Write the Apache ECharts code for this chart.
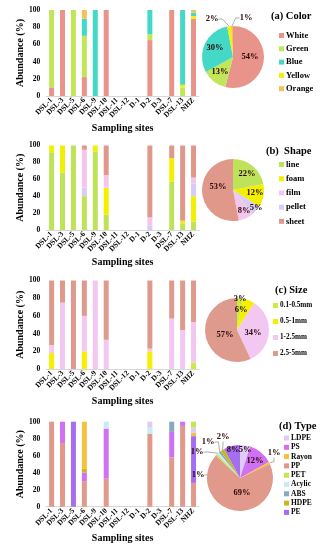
<!DOCTYPE html>
<html><head><meta charset="utf-8">
<script src="https://cdn.jsdelivr.net/npm/echarts@6/dist/echarts.min.js"></script>
<style>html,body{margin:0;padding:0;background:#fff}#c{width:320px;height:550px}</style>
</head><body><div id="c"></div>
<script>
// ---------------- DATA ----------------
const sites = ['DSL-1','DSL-3','DSL-5','DSL-6','DSL-9','DSL-10','DSL-11','DSL-12','D-1','D-2','D-3','DSL-7','DSL-13','NHZ'];
const yTicks = [0, 20, 40, 60, 80, 100];

// (a) Color — bar stacks (bottom → top) and pie
const colorLegend = ['White','Green','Blue','Yellow','Orange'];
const colorWhite  = [10,100,0,22,0,100,0,0,0,65,0,100,0,90];
const colorGreen  = [90,0,100,48,0,0,0,0,0,7,0,0,10,0];
const colorYellow = [0,0,0,0,0,0,0,0,0,0,0,0,3,3];
const colorBlue   = [0,0,0,20,100,0,0,0,0,28,0,0,87,4];
const colorOrange = [0,0,0,10,0,0,0,0,0,0,0,0,0,3];
const colorPieNames  = ['White','Green','Blue','Yellow','Orange'];
const colorPieValues = [54,13,30,2,1];

// (b) Shape
const shapeLegend = ['line','foam','film','pellet','sheet'];
const shapeLine   = [92,68,100,40,93,18,0,0,0,0,0,57,8,10];
const shapeFoam   = [8,32,0,0,7,32,0,0,0,0,0,28,3,30];
const shapePellet = [0,0,0,10,0,0,0,0,0,5,0,0,0,15];
const shapeFilm   = [0,0,0,45,0,15,0,0,0,10,0,0,0,7];
const shapeSheet  = [0,0,0,5,0,35,0,0,0,85,0,15,89,38];
const shapePieNames  = ['line','foam','pellet','film','sheet'];
const shapePieValues = [22,12,5,8,53];

// (c) Size
const sizeLegend = ['0.1-0.5mm','0.5-1mm','1-2.5mm','2.5-5mm'];
const size01 = [0,0,0,0,0,0,0,0,0,0,0,0,0,7];
const size05 = [18,0,0,20,0,0,0,0,0,20,0,0,0,0];
const size1  = [9,75,0,40,100,33,0,0,0,3,0,57,44,46];
const size25 = [73,25,100,40,0,67,0,0,0,77,0,43,56,47];
const sizePieNames  = ['0.1-0.5mm','0.5-1mm','1-2.5mm','2.5-5mm'];
const sizePieValues = [3,6,34,57];

// (d) Type
const typeLegend = ['LDPE','PS','Rayon','PP','PET','Acylic','ABS','HDPE','PE'];
const typePP     = [100,75,0,30,0,33,0,0,0,86,0,58,95,28];
const typePE     = [0,0,100,0,0,0,0,0,0,0,0,0,0,55];
const typePS     = [0,25,0,10,0,59,0,0,0,0,0,30,5,0];
const typeHDPE   = [0,0,0,5,0,0,0,0,0,0,0,0,0,0];
const typeRayon  = [0,0,0,55,0,0,0,0,0,0,0,0,0,4];
const typeAcylic = [0,0,0,0,0,8,0,0,0,7,0,0,0,0];
const typeLDPE   = [0,0,0,0,0,0,0,0,0,7,0,0,0,6];
const typeABS    = [0,0,0,0,0,0,0,0,0,0,0,12,0,0];
const typePET    = [0,0,0,0,0,0,0,0,0,0,0,0,0,7];
const typePieNames  = ['LDPE','PS','Rayon','PP','PET','Acylic','ABS','HDPE','PE'];
const typePieValues = [5,12,1,69,1,1,1,2,8];

// ---------------- STYLE ----------------
const FONT = '"Liberation Serif","Times New Roman",serif';
const colors = {
  White:'#E8948A', Green:'#C2E65A', Blue:'#44D8C6', Yellow:'#F4F000', Orange:'#F4C25A',
  line:'#BEE35A', foam:'#F2F000', film:'#F4C6EE', pellet:'#D6CCF4', sheet:'#E0988A',
  '0.1-0.5mm':'#C8EC40', '0.5-1mm':'#F4F000', '1-2.5mm':'#F2C8F2', '2.5-5mm':'#DE9A8C',
  LDPE:'#DCCCF6', PS:'#D070F2', Rayon:'#F6C040', PP:'#E0998B', PET:'#C6E650',
  Acylic:'#C6ECF4', ABS:'#88A8C4', HDPE:'#C8B820', PE:'#A56EF0'
};
const panels = [
  { title:'(a) Color', legend: colorLegend, grid:{top:10, height:86},
    stacks: [['White',colorWhite],['Green',colorGreen],['Yellow',colorYellow],['Blue',colorBlue],['Orange',colorOrange]],
    pieNames: colorPieNames, pieValues: colorPieValues, center:[233,57], r:31,
    lines:['Yellow','Orange'],
    labelPos:{White:[250,57],Blue:[215,48],Green:[220,72],Yellow:[212,19],Orange:[246,18]},
    titlePos:[266,6], legendPos:[274,26], legendGap:4.3, legendFont:8.5 },
  { title:'(b)  Shape', legend: shapeLegend, grid:{top:145.5, height:84.5},
    stacks: [['line',shapeLine],['foam',shapeFoam],['pellet',shapePellet],['film',shapeFilm],['sheet',shapeSheet]],
    pieNames: shapePieNames, pieValues: shapePieValues, center:[233,190], r:31,
    lines:[],
    labelPos:{line:[247,174],foam:[255,193],pellet:[256,208],film:[244,211],sheet:[218,187]},
    titlePos:[261,141], legendPos:[274,155], legendGap:5.2, legendFont:8.5 },
  { title:'(c) Size', legend: sizeLegend, grid:{top:280.5, height:88.5},
    stacks: [['0.1-0.5mm',size01],['0.5-1mm',size05],['1-2.5mm',size1],['2.5-5mm',size25]],
    pieNames: sizePieNames, pieValues: sizePieValues, center:[237,330], r:32,
    lines:[],
    labelPos:{'0.1-0.5mm':[240,299],'0.5-1mm':[241,310],'1-2.5mm':[253,333],'2.5-5mm':[225,335]},
    titlePos:[270,280], legendPos:[268,297], legendGap:9, legendFont:7.2 },
  { title:'(d) Type', legend: typeLegend, grid:{top:421.7, height:85},
    stacks: [['PP',typePP],['PE',typePE],['PS',typePS],['HDPE',typeHDPE],['Rayon',typeRayon],['Acylic',typeAcylic],['LDPE',typeLDPE],['ABS',typeABS],['PET',typePET]],
    pieNames: typePieNames, pieValues: typePieValues, center:[240,478], r:33,
    lines:['Rayon','PET','Acylic','ABS','HDPE'],
    labelPos:{LDPE:[245,450],PS:[255,461],Rayon:[274,453],PP:[242,493],PET:[198,475],Acylic:[197,452],ABS:[208,442],HDPE:[223,437],PE:[233,450]},
    titlePos:[274,416], legendPos:[279,429], legendGap:1.3, legendFont:7.5 }
];

// ---------------- BUILD ----------------
const option = {
  backgroundColor:'#fff', animation:false,
  title:[], legend:[], grid:[], xAxis:[], yAxis:[], series:[]
};
panels.forEach((p, i) => {
  option.grid.push({left:33, width:166, top:p.grid.top, height:p.grid.height});
  option.xAxis.push({
    type:'category', gridIndex:i, data:sites,
    axisLine:{show:true, lineStyle:{color:'#d8d8d8', width:1}},
    axisTick:{show:false},
    axisLabel:{rotate:45, interval:0, margin:3, fontFamily:FONT, fontWeight:'bold', fontSize:7.5, color:'#000'},
    name:'Sampling sites', nameLocation:'middle', nameGap:27,
    nameTextStyle:{fontFamily:FONT, fontWeight:'bold', fontSize:10, color:'#000'}
  });
  option.yAxis.push({
    type:'value', gridIndex:i, min:0, max:100, interval:20,
    axisLine:{show:false}, axisTick:{show:false}, splitLine:{show:false},
    axisLabel:{margin:6, fontFamily:FONT, fontWeight:'bold', fontSize:7.5, color:'#000',
      formatter:(v)=> yTicks.includes(v) ? String(v) : ''},
    name:'Abundance (%)', nameLocation:'middle', nameRotate:90, nameGap:19,
    nameTextStyle:{fontFamily:FONT, fontWeight:'bold', fontSize:10, color:'#000'}
  });
  p.stacks.forEach(([name, vals]) => {
    option.series.push({
      type:'bar', name, xAxisIndex:i, yAxisIndex:i, stack:'s'+i, barWidth:5,
      data: vals, itemStyle:{color:colors[name]}, emphasis:{disabled:true}
    });
  });
  const lp = p.labelPos;
  option.series.push({
    type:'pie', name:'pie'+i, center:p.center, radius:[0,p.r], startAngle:90, clockwise:true,
    avoidLabelOverlap:false, emphasis:{disabled:true},
    label:{show:true, position:'inside', formatter:'{c}%', fontFamily:FONT, fontWeight:'bold', fontSize:8.5, color:'#2a0808'},
    labelLine:{show:false},
    labelLayout:(prm)=>{ const nm = p.pieNames[prm.dataIndex]; const q = lp[nm];
      return q ? {x:q[0], y:q[1], align:'center', verticalAlign:'middle'} : {}; },
    data: p.pieNames.map((nm, k) => {
      const d = {name:nm, value:p.pieValues[k], itemStyle:{color:colors[nm]}};
      if (p.lines.includes(nm)) {
        d.label = {position:'outside'};
        d.labelLine = {show:true, length:4, length2:4, lineStyle:{color:'#999', width:0.8}};
      }
      return d;
    })
  });
  option.title.push({text:p.title, left:p.titlePos[0], top:p.titlePos[1],
    textStyle:{fontFamily:FONT, fontWeight:'bold', fontSize:10.5, color:'#000'}});
  option.legend.push({data:p.legend, orient:'vertical', left:p.legendPos[0], top:p.legendPos[1],
    itemWidth:5, itemHeight:5, itemGap:p.legendGap, icon:'rect', selectedMode:false,
    textStyle:{fontFamily:FONT, fontWeight:'bold', fontSize:p.legendFont, color:'#000', padding:[0,0,0,-3]}});
});
const chart = echarts.init(document.getElementById('c'), null, {renderer:'canvas'});
chart.setOption(option);
</script>
</body></html>
